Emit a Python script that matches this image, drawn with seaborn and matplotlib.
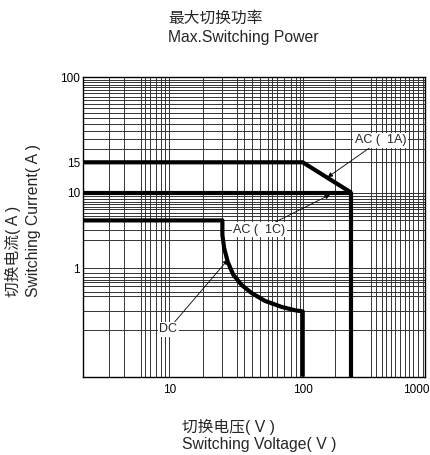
import numpy as np
import pandas as pd
import matplotlib
matplotlib.use("Agg")
import matplotlib.pyplot as plt
import seaborn as sns

# ---- data ----
ac_1a_v = [1, 100, 250]
ac_1a_i = [15, 15, 10]
ac_1c_v = [1, 250, 250]
ac_1c_i = [10, 10, 0.1]
dc_v = [1, 25, 25, 25.8, 27.4, 30.2, 34.9, 41.5, 52.2, 69.6, 87.6, 100, 100]
dc_i = [4.3, 4.3, 2.76, 1.84, 1.22, 0.87, 0.70, 0.59, 0.50, 0.44, 0.41, 0.40, 0.1]

x_ticks = [10, 100, 1000]
y_ticks = [1, 10, 15, 100]
x_grid = [2, 3, 4.7, 5.3, 6, 7, 8, 9,
          18, 25, 32, 36, 42, 48, 55, 59, 64, 72, 82, 89, 96,
          185, 250, 360, 400, 445, 480, 525, 570, 625, 680, 740, 800, 880, 970]
y_grid = [0.27, 0.4, 0.55, 0.61, 0.68, 0.74, 0.78, 0.84, 0.9,
          2.4, 3.2, 4.3, 4.9, 5.4, 6, 6.5, 7, 7.6, 8.2, 9,
          20, 25, 30, 35, 40, 45, 50, 55, 60, 65, 70, 75, 80, 85, 90, 95]

# the printed paper is not a uniform log grid: each decade has its own length
x_scale_vals = [1, 10, 100, 1000]
x_scale_pos = [0, 86.6, 220, 342.3]
y_scale_vals = [0.1, 1, 10, 15, 100]
y_scale_pos = [0, 108.4, 184, 214.4, 299.4]


def paper_scale(vals, pos):
    lv = np.log10(vals)

    def fwd(v):
        v = np.clip(np.asarray(v, dtype=float), 1e-9, None)
        return np.interp(np.log10(v), lv, pos)

    def inv(p):
        return 10 ** np.interp(np.asarray(p, dtype=float), pos, lv)

    return fwd, inv


sns.set_theme(style="white")
plt.rcParams["font.family"] = ["Liberation Sans", "Noto Sans CJK SC", "DejaVu Sans"]

fig = plt.figure(figsize=(4.3, 4.55), dpi=100)
ax = fig.add_axes([0.1923, 0.1721, 0.7961, 0.658])

ax.set_xscale("function", functions=paper_scale(x_scale_vals, x_scale_pos))
ax.set_yscale("function", functions=paper_scale(y_scale_vals, y_scale_pos))
ax.set_xlim(1, 1000)
ax.set_ylim(0.1, 100)

line_kw = dict(color="black", linewidth=3.0, sort=False, estimator=None,
               solid_joinstyle="round", solid_capstyle="butt", zorder=3)
sns.lineplot(x=ac_1a_v, y=ac_1a_i, ax=ax, **line_kw)
sns.lineplot(x=ac_1c_v, y=ac_1c_i, ax=ax, **line_kw)
sns.lineplot(x=dc_v, y=dc_i, ax=ax, **line_kw)

ax.set_xticks(x_ticks)
# the last label is written separately so it stays inside the figure
ax.set_xticklabels([str(t) for t in x_ticks[:-1]] + [""])
ax.set_yticks(y_ticks)
ax.set_yticklabels([str(t) for t in y_ticks])
ax.set_xticks(x_grid, minor=True)
ax.set_yticks(y_grid, minor=True)
ax.tick_params(which="both", length=0)
ax.tick_params(axis="x", labelsize=8.5, pad=5, colors="black")
ax.tick_params(axis="y", labelsize=8.5, pad=2, colors="black")
ax.grid(True, which="both", color="#333333", linewidth=0.7)
ax.set_axisbelow(True)
for s in ax.spines.values():
    s.set_color("black")
    s.set_linewidth(1.0)

ax.annotate(str(x_ticks[-1]), xy=(x_ticks[-1], 0), xycoords=("data", "axes fraction"),
            xytext=(3.5, -5), textcoords="offset points", ha="right", va="top",
            fontsize=8.5, color="black")

box = dict(boxstyle="square,pad=0.12", fc="white", ec="none")
arrow = dict(arrowstyle="-|>", color="black", lw=0.6, mutation_scale=7, shrinkA=0, shrinkB=0)
ax.annotate("AC (  1A)", xy=(160, 12.3), xytext=(0.795, 0.79), textcoords="axes fraction",
            ha="left", va="center", fontsize=9, bbox=box, arrowprops=arrow, zorder=5)
ax.annotate("AC (  1C)", xy=(167, 9.4), xytext=(0.44, 0.49), textcoords="axes fraction",
            ha="left", va="center", fontsize=9, bbox=box, arrowprops=arrow, zorder=5)
ax.annotate("DC", xy=(27.5, 1.3), xytext=(0.25, 0.158), textcoords="axes fraction",
            ha="center", va="center", fontsize=9, bbox=box, arrowprops=arrow, zorder=5)

W, H = 430, 455
fig.text(168 / W, 1 - 18.3 / H, "最大切换功率", ha="left", va="center", fontsize=11.3)
fig.text(168 / W, 1 - 37.3 / H, "Max.Switching Power", ha="left", va="center", fontsize=11.3)
fig.text(181.7 / W, 1 - 426.7 / H, "切换电压( V )", ha="left", va="center", fontsize=11.3)
fig.text(181.7 / W, 1 - 445 / H, "Switching Voltage( V )", ha="left", va="center", fontsize=11.3)
fig.text(13.3 / W, 1 - 296.7 / H, "切换电流( A )", ha="center", va="bottom", rotation=90, fontsize=11.3)
fig.text(33.3 / W, 1 - 296.7 / H, "Switching Current( A )", ha="center", va="bottom", rotation=90, fontsize=11.3)

fig.savefig("out.png", dpi=100, facecolor="white")
